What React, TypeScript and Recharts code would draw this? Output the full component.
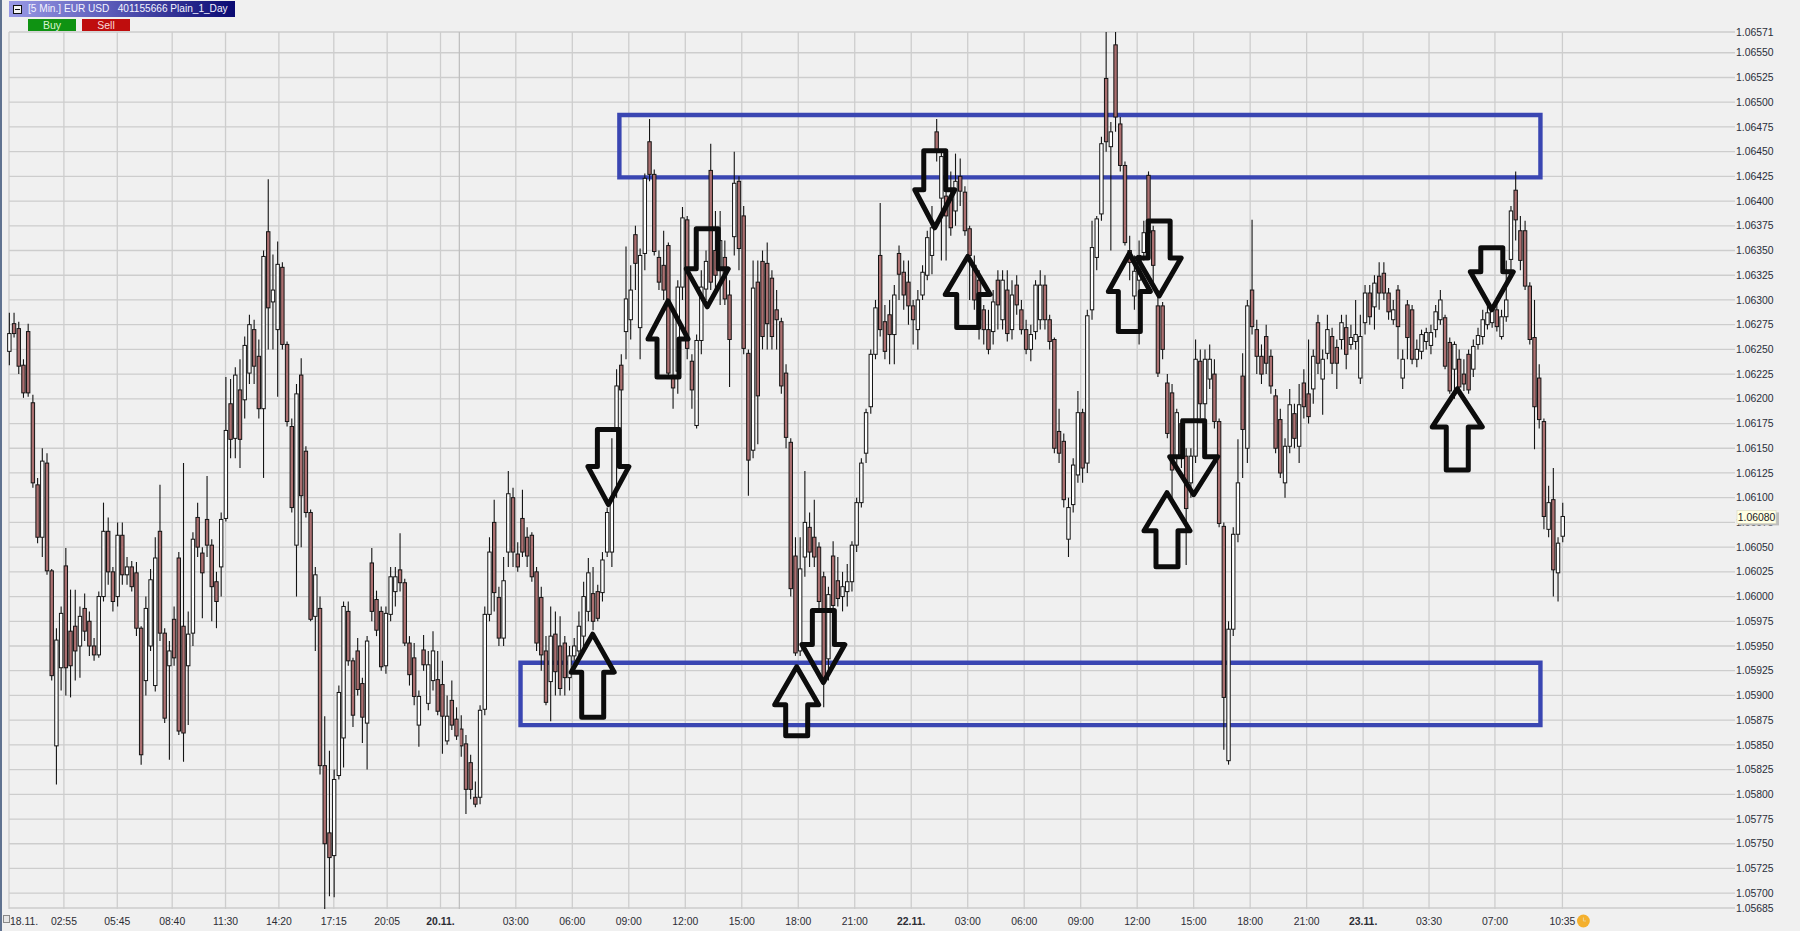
import { ComposedChart, Bar, XAxis, YAxis, CartesianGrid, ReferenceArea, ReferenceDot, ReferenceLine } from 'recharts';

const FONT = '"Liberation Sans", Arial, sans-serif';
const PAGE_BG = '#f0f0f0';
const GRID = '#cdcdcd';
const ZONE_BLUE = '#3a46b2';
const CANDLE_RED = '#ab6f70';
const INK = '#141414';

// prices are kept as points above 1.05000, so 1275 reads 1.06275
const toPrice = (points: number) => (1.05 + points / 100000).toFixed(5);

// one drawn candle every 3 five-minute bars
const BAR_STEP = 3;

const opens = [
  1248,1276,1271,1234,1268,1196,1113,1060,1135,1026,
  849,928,1031,965,970,950,988,975,950,941,
  1000,1066,1025,1000,1062,1022,1030,1024,968,915,
  950,910,1066,963,930,977,1039,970,930,963,
  1080,1044,1078,1052,1015,1030,1079,1195,1160,1209,
  1199,1226,1270,1243,1190,1369,1298,1270,1333,1255,
  1172,1052,1224,1147,1085,980,988,829,761,738,
  819,857,985,935,945,912,872,1034,997,985,
  930,982,1005,1027,1014,953,938,870,946,892,
  915,916,911,854,895,876,866,851,832,797,
  797,886,982,1075,999,958,1045,1100,1043,1079,
  1060,1062,1025,999,945,914,962,950,953,918,
  940,945,960,985,1003,1005,1004,1045,1045,1170,
  1234,1268,1280,1366,1272,1347,1460,1427,1343,1335,
  1355,1222,1228,1313,1381,1238,1173,1259,1311,1431,
  1350,1330,1343,1305,1364,1420,1385,1246,1148,1318,
  1339,1337,1322,1290,1278,1226,1156,1041,945,1040,
  1070,1060,1050,1020,937,1041,1016,1000,1005,1015,
  1052,1095,1145,1192,1245,1345,1278,1285,1265,1347,
  1328,1318,1294,1270,1305,1325,1345,1470,1403,1405,
  1402,1390,1425,1409,1372,1335,1320,1290,1270,1268,
  1320,1280,1310,1270,1315,1290,1270,1250,1268,1280,
  1315,1280,1260,1167,1157,1058,1093,1123,1186,1135,
  1290,1343,1387,1524,1455,1558,1478,1436,1350,1304,
  1320,1348,1426,1370,1294,1294,1216,1206,1142,1175,
  1142,1115,1142,1238,1195,1220,1225,1177,1071,834,
  967,1063,1223,1150,1310,1270,1243,1263,1243,1203,
  1179,1115,1152,1185,1152,1216,1205,1210,1277,1220,
  1246,1263,1252,1260,1272,1255,1258,1221,1277,1307,
  1293,1324,1327,1307,1280,1310,1221,1295,1290,1240,
  1248,1258,1254,1270,1280,1282,1257,1230,1240,1225,
  1245,1230,1255,1263,1275,1277,1290,1263,1283,1341,
  1411,1370,1370,1314,1262,1221,1177,1068,1098,1024,1061,
];
const closes = [
  1266,1266,1233,1206,1206,1115,1060,1137,1026,920,
  956,983,928,930,945,980,965,950,941,1000,
  1066,1025,995,1062,1022,1030,1010,968,840,988,
  1017,1039,963,877,945,938,864,862,962,1058,
  1050,1024,1052,1010,995,1078,1168,1159,1224,1159,
  1254,1275,1233,1190,1344,1292,1310,1336,1255,1177,
  1090,1205,1102,1085,977,1022,829,750,736,815,
  903,990,935,880,906,878,955,985,966,929,
  983,1020,1020,1014,953,921,899,899,931,931,
  945,884,879,879,870,859,849,805,805,790,
  885,982,1045,1004,958,1016,1104,1045,1030,1045,
  1041,1020,953,941,893,960,924,907,918,940,
  950,970,1000,1024,975,978,1037,1085,1100,1213,
  1209,1301,1310,1337,1345,1423,1427,1349,1318,1310,
  1226,1211,1313,1383,1251,1209,1259,1313,1339,1318,
  1325,1360,1301,1260,1418,1352,1251,1138,1312,1203,
  1263,1276,1263,1280,1213,1161,1008,943,1028,1075,
  1045,1040,995,915,1002,991,998,1010,1015,1052,
  1095,1135,1186,1245,1292,1270,1248,1265,1305,1326,
  1305,1294,1280,1300,1328,1363,1373,1451,1445,1385,
  1373,1420,1410,1370,1345,1300,1280,1270,1250,1298,
  1295,1320,1266,1305,1295,1270,1250,1265,1315,1315,
  1280,1258,1150,1145,1098,1090,1133,1186,1130,1284,
  1353,1382,1458,1460,1470,1485,1436,1358,1338,1329,
  1345,1368,1368,1335,1226,1250,1165,1128,1186,1142,
  1089,1142,1240,1195,1240,1240,1177,1074,898,967,
  1063,1115,1169,1294,1273,1243,1225,1236,1213,1150,
  1125,1152,1194,1160,1194,1192,1182,1243,1236,1240,
  1270,1236,1236,1277,1245,1262,1265,1263,1307,1283,
  1317,1307,1307,1288,1290,1273,1240,1262,1240,1250,
  1265,1267,1267,1288,1300,1233,1208,1255,1212,1215,
  1209,1253,1264,1280,1287,1290,1273,1283,1300,1390,
  1381,1340,1314,1260,1192,1179,1081,1095,1027,1054,1081,
];
const highs = [
  1287,1287,1278,1240,1276,1204,1120,1150,1145,1028,
  968,990,1049,1007,1007,990,1003,985,958,1005,
  1095,1080,1030,1075,1075,1040,1036,1035,970,1000,
  1028,1060,1113,968,955,990,1045,1135,985,1065,
  1095,1050,1122,1058,1025,1085,1222,1220,1232,1240,
  1263,1285,1280,1260,1350,1422,1346,1359,1338,1258,
  1180,1215,1241,1152,1088,1030,1000,879,844,825,
  910,995,995,938,958,918,960,1049,1006,990,
  990,1030,1030,1064,1018,960,953,905,961,945,
  965,945,935,900,915,888,880,860,840,813,
  890,990,1060,1098,1010,1040,1127,1110,1055,1108,
  1070,1065,1030,1010,960,990,985,980,960,950,
  958,985,1015,1039,1030,1012,1045,1090,1160,1230,
  1245,1354,1335,1375,1352,1428,1483,1432,1350,1370,
  1358,1290,1320,1394,1385,1245,1265,1330,1350,1458,
  1390,1390,1360,1320,1450,1425,1395,1250,1340,1340,
  1350,1358,1330,1310,1282,1235,1160,1060,1060,1127,
  1085,1098,1055,1025,1010,1056,1040,1025,1033,1056,
  1100,1140,1190,1250,1300,1398,1295,1300,1315,1355,
  1340,1340,1300,1310,1335,1370,1395,1483,1450,1410,
  1430,1448,1443,1415,1375,1345,1330,1295,1290,1310,
  1330,1330,1330,1320,1325,1300,1280,1275,1320,1330,
  1325,1285,1262,1190,1165,1100,1140,1208,1190,1290,
  1380,1385,1465,1571,1480,1571,1485,1440,1365,1345,
  1360,1380,1430,1375,1310,1298,1225,1215,1190,1180,
  1150,1150,1260,1250,1250,1255,1240,1180,1075,975,
  1070,1159,1246,1300,1381,1280,1255,1275,1250,1210,
  1190,1160,1210,1195,1215,1230,1260,1250,1285,1250,
  1285,1272,1260,1285,1285,1275,1300,1285,1315,1315,
  1325,1338,1338,1312,1300,1315,1250,1300,1295,1260,
  1270,1272,1275,1295,1310,1285,1262,1258,1250,1240,
  1250,1260,1272,1290,1295,1295,1297,1290,1340,1395,
  1430,1385,1380,1318,1300,1235,1180,1112,1130,1060,1095,
];
const lows = [
  1234,1262,1225,1201,1202,1110,1054,1040,1022,915,
  810,905,900,898,915,918,955,940,935,938,
  995,1012,985,990,1012,1012,1005,960,830,900,
  945,904,955,872,835,930,860,833,870,950,
  1040,978,1040,975,968,1000,1076,1140,1140,1130,
  1180,1215,1215,1180,1120,1250,1250,1202,1250,1172,
  1085,1000,1050,1080,975,945,820,684,697,696,
  815,827,930,868,900,852,825,975,960,925,
  922,975,990,1005,950,910,890,848,925,885,
  905,880,841,850,865,855,838,780,795,787,
  790,880,975,985,950,950,1030,1030,1025,1040,
  1030,1015,945,925,890,874,900,900,900,905,
  935,938,950,975,966,975,995,1040,1030,1100,
  1170,1240,1260,1310,1240,1330,1420,1345,1310,1300,
  1222,1190,1205,1300,1240,1190,1170,1245,1300,1310,
  1310,1295,1295,1212,1345,1330,1245,1102,1140,1154,
  1250,1250,1250,1250,1205,1150,1000,940,940,1020,
  1030,1030,985,888,915,985,990,985,990,1005,
  1045,1090,1135,1185,1240,1263,1240,1235,1235,1300,
  1290,1275,1255,1250,1300,1320,1326,1440,1340,1340,
  1365,1375,1395,1365,1300,1290,1260,1255,1245,1255,
  1270,1270,1258,1260,1285,1265,1245,1238,1260,1270,
  1270,1250,1145,1135,1090,1040,1085,1115,1115,1125,
  1280,1330,1380,1450,1350,1470,1430,1355,1320,1290,
  1255,1340,1360,1310,1222,1240,1160,1100,1130,1130,
  1032,1100,1135,1180,1165,1210,1170,1070,845,830,
  960,1055,1120,1135,1265,1225,1215,1225,1205,1145,
  1120,1100,1145,1150,1135,1180,1175,1195,1225,1184,
  1240,1225,1210,1250,1230,1250,1250,1215,1265,1275,
  1270,1290,1300,1280,1275,1240,1210,1240,1235,1232,
  1240,1250,1245,1262,1275,1230,1205,1200,1205,1208,
  1205,1222,1250,1255,1270,1272,1268,1260,1278,1330,
  1360,1330,1310,1255,1149,1170,1068,1060,1000,995,1055,
];

const candles = opens.map((open, i) => ({
  bar: i * BAR_STEP,
  open,
  close: closes[i],
  high: highs[i],
  low: lows[i],
  range: [lows[i], highs[i]],
}));

const priceTicks = [685, 700, 725, 750, 775, 800, 825, 850, 875, 900, 925, 950, 975, 1000, 1025, 1050, 1075, 1100, 1125, 1150, 1175, 1200, 1225, 1250, 1275, 1300, 1325, 1350, 1375, 1400, 1425, 1450, 1475, 1500, 1525, 1550, 1571];
const timeBars = [0, 35, 69, 104, 138, 172, 207, 241, 275, 323, 359, 395, 431, 467, 503, 539, 575, 611, 647, 683, 719, 755, 791, 827, 863, 905, 947, 990];
const timeLabels = ['18.11.', '02:55', '05:45', '08:40', '11:30', '14:20', '17:15', '20:05', '20.11.', '03:00', '06:00', '09:00', '12:00', '15:00', '18:00', '21:00', '22.11.', '03:00', '06:00', '09:00', '12:00', '15:00', '18:00', '21:00', '23.11.', '03:30', '07:00', '10:35'];
const DAY_BREAK_BAR = 287;
const LAST_PRICE = 1080;
const LAST_PRICE_TICK = 1075;

// the two hand drawn zones
const zoneBarFrom = [389, 326];
const zoneBarTo = [976, 976];
const zoneTop = [1487, 933];
const zoneBottom = [1424, 870];

// the hand drawn arrows, each located by where its tip points
const arrowBars = [382, 372, 420, 445, 502, 519, 590, 611, 714, 733, 755, 738, 923, 945];
const arrowTips = [1093, 962, 1299, 1293, 929, 913, 1373, 1344, 1347, 1304, 1103, 1105, 1210, 1290];
const arrowDown = [true, false, false, true, false, true, true, false, false, true, true, false, false, true];
const arrowLengths = [75, 83, 76, 78, 69, 72, 77, 71, 78, 75, 74, 74, 81, 62];
const arrowWidths = [41, 43, 40, 42, 44, 43, 40, 45, 42, 44, 48, 46, 50, 43];

const CandleShape = ({ x, y, width, height, payload }: any) => {
  const { open, close, high, low } = payload;
  const perPoint = height / Math.max(high - low, 1);
  const yOpen = y + (high - open) * perPoint;
  const yClose = y + (high - close) * perPoint;
  const mid = x + width / 2;
  const isUp = close >= open;
  return (
    <g>
      <line x1={mid} x2={mid} y1={y} y2={y + height} stroke={INK} strokeWidth={1.1} />
      <rect
        x={x}
        y={Math.min(yOpen, yClose)}
        width={width}
        height={Math.max(Math.abs(yClose - yOpen), 1)}
        fill={isUp ? '#ffffff' : CANDLE_RED}
        stroke={INK}
        strokeWidth={1}
      />
    </g>
  );
};

const ArrowShape = ({ cx, cy, down, length, wide }: any) => {
  const dir = down ? -1 : 1;
  const head = 38;
  const shaft = 11;
  const half = wide / 2;
  const pts = [
    [0, 0],
    [half, head * dir],
    [shaft, head * dir],
    [shaft, length * dir],
    [-shaft, length * dir],
    [-shaft, head * dir],
    [-half, head * dir],
  ];
  return (
    <polygon
      points={pts.map(([dx, dy]) => `${cx + dx},${cy + dy}`).join(' ')}
      fill="none"
      stroke="#0c0c0c"
      strokeWidth={5}
      strokeLinejoin="round"
    />
  );
};

const TimeTick = ({ x, y, index }: any) => {
  const label = timeLabels[index];
  const isDate = label.endsWith('.') && index > 0;
  const isFirst = index === 0;
  const isLast = index === timeLabels.length - 1;
  return (
    <g>
      <text
        x={isFirst ? x + 1 : x}
        y={y}
        dy={8}
        textAnchor={isFirst ? 'start' : 'middle'}
        fontFamily={FONT}
        fontSize={10.4}
        fontWeight={isDate ? 700 : 400}
        fill="#2c2c34"
      >
        {label}
      </text>
      {isLast && (
        <g>
          <circle cx={x + 21} cy={y + 4} r={6.4} fill="#f4b02e" />
          <path d={`M${x + 21} ${y + 0.5}V${y + 4}H${x + 23.5}`} stroke="#e8dcb0" strokeWidth={0.8} fill="none" />
        </g>
      )}
    </g>
  );
};

// price labels; the last price tag sits on top of the label just under it
const PriceTick = ({ x, y, payload }: any) => {
  const tagY = y - (LAST_PRICE - LAST_PRICE_TICK);
  return (
    <g fontFamily={FONT} fontSize={10.4}>
      <text x={x} y={y} dy="0.35em" fill="#2a2e3a">{toPrice(payload.value)}</text>
      {payload.value === LAST_PRICE_TICK && (
        <g>
          <rect x={x + 3} y={tagY - 5} width={40} height={13} fill="#bdbdbd" />
          <rect x={x + 1} y={tagY - 7} width={39} height={13} fill="#ffffe4" stroke="#d8d8c0" strokeWidth={0.6} />
          <text x={x + 20.5} y={tagY} dy="0.35em" textAnchor="middle" fill="#1c1c24">{toPrice(LAST_PRICE)}</text>
        </g>
      )}
    </g>
  );
};

export default function App() {
  return (
    <div style={{ position: 'absolute', left: 0, top: 0, width: 1800, height: 931, background: PAGE_BG, overflow: 'hidden' }}>
      <ComposedChart
        width={1800}
        height={931}
        data={candles}
        margin={{ top: 32, right: 0, bottom: 0, left: 9 }}
      >
        <CartesianGrid stroke={GRID} strokeWidth={1.3} syncWithTicks />
        <XAxis
          dataKey="bar"
          type="number"
          domain={[0, 1100]}
          ticks={timeBars}
          interval={0}
          height={22}
          axisLine={false}
          tickLine={false}
          tick={<TimeTick />}
        />
        <YAxis
          orientation="right"
          domain={[685, 1571]}
          ticks={priceTicks}
          interval={0}
          width={65}
          axisLine={false}
          tickLine={false}
          tickSize={0}
          tickMargin={1}
          tick={<PriceTick />}
        />
        <ReferenceLine x={DAY_BREAK_BAR} stroke="#bdbdbd" strokeWidth={1.2} />
        <Bar dataKey="range" barSize={3.4} shape={<CandleShape />} isAnimationActive={false} />
        {zoneTop.map((top, i) => (
          <ReferenceArea
            key={i}
            x1={zoneBarFrom[i]}
            x2={zoneBarTo[i]}
            y1={zoneBottom[i]}
            y2={top}
            fill="none"
            stroke={ZONE_BLUE}
            strokeWidth={4.4}
            ifOverflow="visible"
          />
        ))}
        {arrowBars.map((bar, i) => (
          <ReferenceDot
            key={i}
            x={bar}
            y={arrowTips[i]}
            r={1}
            ifOverflow="visible"
            shape={(p: any) => <ArrowShape {...p} down={arrowDown[i]} length={arrowLengths[i]} wide={arrowWidths[i]} />}
          />
        ))}
      </ComposedChart>

      {/* window strip on the left edge and the little flag in the corner */}
      <div style={{ position: 'absolute', left: 0, top: 0, width: 2, height: 931, background: '#5f7290' }} />
      <div style={{ position: 'absolute', left: 3, top: 915, width: 5, height: 6, background: '#e6e6e6', border: '1px solid #8a8a8a' }} />

      {/* chart title bar with its collapse box */}
      <div
        style={{
          position: 'absolute',
          left: 9,
          top: 1,
          width: 226,
          height: 16,
          background: 'linear-gradient(90deg, #9a9ae6 0%, #5a5ab8 45%, #0a0a72 100%)',
          color: '#f4f4ff',
          fontFamily: FONT,
          fontSize: 10.1,
          lineHeight: '16px',
          whiteSpace: 'pre',
          boxSizing: 'border-box',
          paddingLeft: 19,
        }}
      >
        {'[5 Min.] EUR USD   401155666 Plain_1_Day'}
        <div style={{ position: 'absolute', left: 4, top: 4, width: 7, height: 7, background: '#f4f4f4', border: '1px solid #111' }}>
          <div style={{ position: 'absolute', left: 1, top: 3, width: 5, height: 1, background: '#111' }} />
        </div>
      </div>
      <div style={{ position: 'absolute', left: 28, top: 19, width: 48, height: 12, background: '#0f9312', color: '#d8f5d0', fontFamily: FONT, fontSize: 10.5, lineHeight: '12px', textAlign: 'center' }}>Buy</div>
      <div style={{ position: 'absolute', left: 82, top: 19, width: 48, height: 12, background: '#bf0d0d', color: '#f8dcdc', fontFamily: FONT, fontSize: 10.5, lineHeight: '12px', textAlign: 'center' }}>Sell</div>
    </div>
  );
}
